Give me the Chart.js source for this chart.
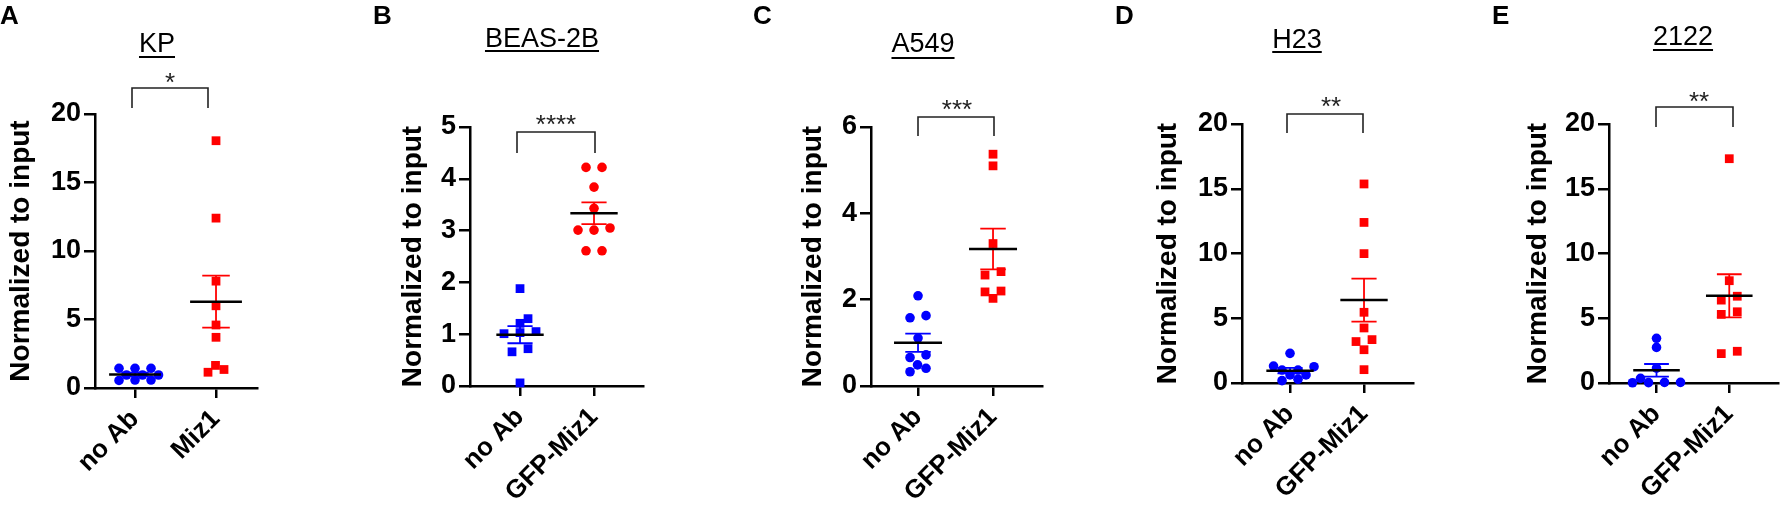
<!DOCTYPE html>
<html><head><meta charset="utf-8">
<script src="https://cdn.jsdelivr.net/npm/chart.js@4.4.1/dist/chart.umd.min.js"></script>
<style>
html,body{margin:0;padding:0;background:#fff;}
#wrap{position:relative;width:1784px;height:511px;overflow:hidden;background:#fff;}
canvas{position:absolute;top:0;}
</style></head><body><div id="wrap"></div>
<script>
const FONT = '"Liberation Sans", Arial, Helvetica, sans-serif';

// ---- categories / labels ----
const catsKP = ['no Ab', 'Miz1'];
const catsGFP = ['no Ab', 'GFP-Miz1'];
const panelTitles = ['KP', 'BEAS-2B', 'A549', 'H23', '2122'];
const panelLetters = ['A', 'B', 'C', 'D', 'E'];
const sigLabels = ['*', '****', '***', '**', '**'];
const yTitle = 'Normalized to input';

// ---- series values ----
const kpNoAb = [1.44, 0.58, 0.95, 1.44, 0.55, 0.95, 1.44, 0.58, 0.95];
const kpMiz1 = [18.05, 12.4, 7.8, 6.0, 4.6, 3.7, 1.65, 1.35, 1.15];
const beasNoAb = [1.88, 1.30, 1.21, 1.05, 1.01, 1.03, 0.66, 0.72, 0.06];
const beasMiz1 = [4.22, 4.22, 3.84, 3.43, 3.01, 3.05, 3.01, 2.61, 2.61];
const a549NoAb = [2.09, 1.63, 1.58, 1.11, 0.72, 0.66, 0.49, 0.41, 0.33];
const a549Miz1 = [5.37, 5.10, 3.30, 2.65, 2.57, 2.20, 2.18, 2.03];
const h23NoAb = [2.29, 1.31, 1.26, 1.00, 1.00, 0.62, 0.62, 0.29, 0.18];
const h23Miz1 = [15.37, 12.4, 9.99, 5.46, 4.25, 3.35, 3.20, 2.57, 1.03];
const c2122NoAb = [3.45, 2.75, 1.15, 0.36, 0.05, 0.05, 0.03, 0.02];
const c2122Miz1 = [17.32, 7.9, 6.7, 6.4, 5.5, 5.3, 2.45, 2.27];

// ---- y axis ranges / tick steps ----
const yMaxes = [20, 5, 6, 20, 20];
const ySteps = [5, 1, 2, 5, 5];

const panelData = [
  {g1: kpNoAb, g2: kpMiz1, cats: catsKP, s1: 'circle', s2: 'rect'},
  {g1: beasNoAb, g2: beasMiz1, cats: catsGFP, s1: 'rect', s2: 'circle'},
  {g1: a549NoAb, g2: a549Miz1, cats: catsGFP, s1: 'circle', s2: 'rect'},
  {g1: h23NoAb, g2: h23Miz1, cats: catsGFP, s1: 'circle', s2: 'rect'},
  {g1: c2122NoAb, g2: c2122Miz1, cats: catsGFP, s1: 'circle', s2: 'rect'}
];

// ---- layout (page pixels) ----
const layoutCfg = [
  {L:0, W:340, axL:95, axR:257, top:114, bot:388, xMin:0.506, xMax:2.506, yTitleCX:24, letterX:0, titleCX:157, titleBase:52, ulY:57, br:{x1:132,x2:208,y:88,y2:108}, starX:170, starY:78},
  {L:340, W:360, axL:470, axR:643, top:127, bot:386, xMin:0.324, xMax:2.662, yTitleCX:416, letterX:373, titleCX:542, titleBase:47, ulY:51, br:{x1:517,x2:595,y:132,y2:153}, starX:556, starY:120},
  {L:700, W:360, axL:871, axR:1042, top:127, bot:386, xMin:0.373, xMax:2.653, yTitleCX:816, letterX:753, titleCX:923, titleBase:52, ulY:58, br:{x1:918,x2:994,y:117,y2:136}, starX:957, starY:105},
  {L:1060, W:360, axL:1242, axR:1413, top:124, bot:383, xMin:0.351, xMax:2.662, yTitleCX:1171, letterX:1115, titleCX:1297, titleBase:48, ulY:52, br:{x1:1287,x2:1363,y:114,y2:133}, starX:1331, starY:102},
  {L:1420, W:364, axL:1609, axR:1783, top:124, bot:383, xMin:0.347, xMax:2.667, yTitleCX:1541, letterX:1492, titleCX:1683, titleBase:45, ulY:50, br:{x1:1656,x2:1733,y:107,y2:127}, starX:1699, starY:97}
];

const BLUE = '#0000ff', RED = '#ff0000';
const H = 511;
const MEAN_HALF = 0.32, CAP_HALF = 0.17;

const mean = a => a.reduce((s, v) => s + v, 0) / a.length;
const sem = a => { const m = mean(a); return Math.sqrt(a.reduce((s, v) => s + (v - m) * (v - m), 0) / (a.length - 1)) / Math.sqrt(a.length); };

function meanSeg(cx, vals) {
  const m = mean(vals);
  return [{x: cx - MEAN_HALF, y: m}, {x: cx + MEAN_HALF, y: m}];
}
function semSeg(cx, vals) {
  const m = mean(vals), s = sem(vals), hi = m + s, lo = m - s;
  return [
    {x: cx - CAP_HALF, y: hi}, {x: cx + CAP_HALF, y: hi}, {x: cx, y: null},
    {x: cx, y: hi}, {x: cx, y: lo}, {x: cx, y: null},
    {x: cx - CAP_HALF, y: lo}, {x: cx + CAP_HALF, y: lo}
  ];
}

// beeswarm-style horizontal spreading computed in pixel space
function swarm(values, yScale, D, S, tieTol) {
  const pts = values.map((v, i) => ({i, y: yScale.getPixelForValue(v), x: 0}));
  pts.sort((a, b) => b.y - a.y);
  const placed = [];
  let k = 0;
  while (k < pts.length) {
    const g = [pts[k]];
    let j = k + 1;
    while (j < pts.length && Math.abs(pts[j].y - pts[k].y) < tieTol) { g.push(pts[j]); j++; }
    const n = g.length;
    const base = g.map((p, idx) => (idx - (n - 1) / 2) * S);
    let shift = null;
    for (let step = 0; step <= 400 && shift === null; step++) {
      const cands = step === 0 ? [0] : [step * 0.5, -step * 0.5];
      for (const t of cands) {
        const ok = g.every((p, idx) => placed.every(q => Math.hypot(base[idx] + t - q.x, p.y - q.y) >= D - 1e-6));
        if (ok) { shift = t; break; }
      }
    }
    if (shift === null) shift = 0;
    g.forEach((p, idx) => { p.x = base[idx] + shift; placed.push(p); });
    k = j;
  }
  const out = new Array(values.length);
  pts.forEach(p => { out[p.i] = p.x; });
  return out;
}

const annot = {
  id: 'annot',
  afterDraw(chart, args, o) {
    const c = chart.ctx, L = o.L;
    c.save();
    c.fillStyle = '#000';
    c.textBaseline = 'alphabetic';
    c.font = 'bold 26px ' + FONT;
    c.textAlign = 'left';
    c.fillText(o.letter, o.letterX - L, 24);
    c.font = '27px ' + FONT;
    c.textAlign = 'center';
    c.fillText(o.title, o.titleCX - L, o.titleBase);
    const w = c.measureText(o.title).width;
    c.fillRect(o.titleCX - L - w / 2, o.ulY - 1, w, 2);
    c.strokeStyle = '#222';
    c.lineWidth = 1.6;
    c.beginPath();
    c.moveTo(o.br.x1 - L, o.br.y2);
    c.lineTo(o.br.x1 - L, o.br.y);
    c.lineTo(o.br.x2 - L, o.br.y);
    c.lineTo(o.br.x2 - L, o.br.y2);
    c.stroke();
    c.font = '26px ' + FONT;
    const m = c.measureText(o.sig);
    const baseY = o.starY + (m.actualBoundingBoxAscent - m.actualBoundingBoxDescent) / 2;
    c.fillStyle = '#222';
    c.fillText(o.sig, o.starX - L, baseY);
    c.restore();
  }
};

const wrap = document.getElementById('wrap');
panelData.forEach((pd, p) => {
  const lc = layoutCfg[p];
  const cv = document.createElement('canvas');
  cv.width = lc.W; cv.height = H;
  cv.style.left = lc.L + 'px';
  cv.style.width = lc.W + 'px'; cv.style.height = H + 'px';
  wrap.appendChild(cv);
  const titleSize = 28;
  const padL = lc.yTitleCX - lc.L - 2.5 - titleSize * 0.6;
  const cats = pd.cats;

  const datasets = [
    {label: 'mean1', data: meanSeg(1, pd.g1), showLine: true, pointRadius: 0, borderColor: '#000', borderWidth: 2.5, spanGaps: false, clip: false, order: 0},
    {label: 'mean2', data: meanSeg(2, pd.g2), showLine: true, pointRadius: 0, borderColor: '#000', borderWidth: 2.5, spanGaps: false, clip: false, order: 0},
    {label: 'sem1', data: semSeg(1, pd.g1), showLine: true, pointRadius: 0, borderColor: BLUE, borderWidth: 1.8, spanGaps: false, clip: false, order: 1},
    {label: 'sem2', data: semSeg(2, pd.g2), showLine: true, pointRadius: 0, borderColor: RED, borderWidth: 1.8, spanGaps: false, clip: false, order: 1},
    {label: cats[0], data: pd.g1.map(v => ({x: 1, y: v})), pointStyle: pd.s1, pointRadius: pd.s1 === 'rect' ? 6.2 : 4.8, pointBackgroundColor: BLUE, pointBorderWidth: 0, clip: false, order: 2},
    {label: cats[1], data: pd.g2.map(v => ({x: 2, y: v})), pointStyle: pd.s2, pointRadius: pd.s2 === 'rect' ? 6.2 : 4.8, pointBackgroundColor: RED, pointBorderWidth: 0, clip: false, order: 2}
  ];

  const chart = new Chart(cv, {
    type: 'scatter',
    data: {datasets},
    plugins: [annot],
    options: {
      responsive: false, animation: false, events: [], devicePixelRatio: 1,
      layout: {padding: {left: padL, right: lc.L + lc.W - lc.axR, top: lc.top, bottom: 0}},
      plugins: {
        legend: {display: false}, tooltip: {enabled: false},
        annot: {L: lc.L, letter: panelLetters[p], letterX: lc.letterX, title: panelTitles[p], titleCX: lc.titleCX, titleBase: lc.titleBase, ulY: lc.ulY, br: lc.br, sig: sigLabels[p], starX: lc.starX, starY: lc.starY}
      },
      scales: {
        x: {
          type: 'linear', min: lc.xMin, max: lc.xMax,
          afterBuildTicks: s => { s.ticks = [{value: 1}, {value: 2}]; },
          afterFit: s => { s.height = H - lc.bot; },
          ticks: {autoSkip: false, minRotation: 45, maxRotation: 45, padding: 6, color: '#000',
                  font: {family: FONT, size: 26, weight: 'bold'},
                  callback: v => cats[Math.round(v) - 1]},
          grid: {drawOnChartArea: false, drawTicks: true, tickLength: 10, color: '#000', lineWidth: 2.5},
          border: {display: true, color: '#000', width: 2.5}
        },
        y: {
          type: 'linear', min: 0, max: yMaxes[p],
          afterFit: s => { s.width = lc.axL - lc.L - padL; },
          ticks: {stepSize: ySteps[p], padding: 3, color: '#000', font: {family: FONT, size: 27, weight: 'bold'}},
          grid: {drawOnChartArea: false, drawTicks: true, tickLength: 11, color: '#000', lineWidth: 2.5},
          border: {display: true, color: '#000', width: 2.5},
          title: {display: true, text: yTitle, color: '#000', padding: 0, font: {family: FONT, size: titleSize, weight: 'bold'}}
        }
      }
    }
  });

  const xs = chart.scales.x, ys = chart.scales.y;
  const ppu = xs.getPixelForValue(2) - xs.getPixelForValue(1);
  [pd.g1, pd.g2].forEach((vals, gi) => {
    const off = swarm(vals, ys, 9, 16, 4);
    chart.data.datasets[4 + gi].data = vals.map((v, i) => ({x: gi + 1 + off[i] / ppu, y: v}));
  });
  chart.update('none');
});
</script>
</body></html>
